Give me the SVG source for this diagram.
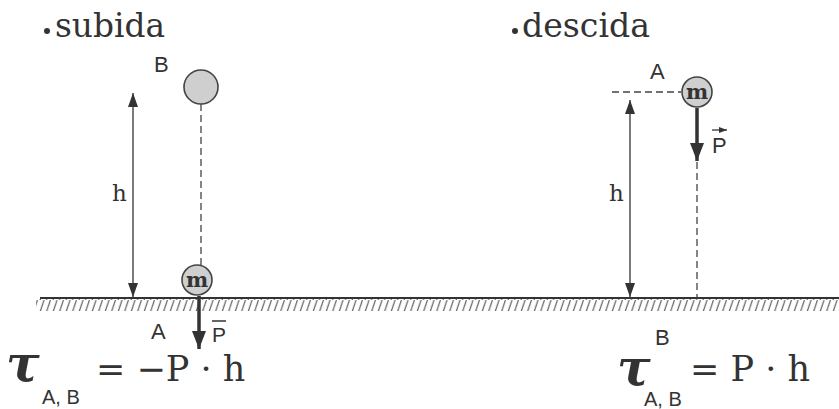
<svg xmlns="http://www.w3.org/2000/svg" width="839" height="409" viewBox="0 0 839 409">
<defs>
<style>
.t{font-family:"DejaVu Serif","Liberation Serif",serif;fill:#333}
.s{font-family:"Liberation Sans",Arial,sans-serif;fill:#333}
.ln{stroke:#333;stroke-width:1.3;fill:none}
.dash{stroke:#444;stroke-width:1.3;stroke-dasharray:7,4;fill:none}
.ball{fill:#cfcfcf;stroke:#444;stroke-width:1.6}
.w{stroke:#333;stroke-width:3.5;fill:none}
</style>
<marker id="ah" viewBox="0 0 14 10" refX="14" refY="5" markerWidth="14" markerHeight="10" markerUnits="userSpaceOnUse" orient="auto-start-reverse"><path d="M0,0 L14,5 L0,10 Z" fill="#333"/></marker>
<marker id="wh" viewBox="0 0 18 14" refX="18" refY="7" markerWidth="18" markerHeight="14" markerUnits="userSpaceOnUse" orient="auto"><path d="M0,0 L18,7 L0,14 Z" fill="#333"/></marker>
<marker id="vh" viewBox="0 0 8 6" refX="8" refY="3" markerWidth="8" markerHeight="6" markerUnits="userSpaceOnUse" orient="auto"><path d="M0,0 L8,3 L0,6 Z" fill="#333"/></marker>
<pattern id="hatch" width="6.5" height="12" patternUnits="userSpaceOnUse"><line x1="5" y1="0" x2="1" y2="12" stroke="#555" stroke-width="1.1"/></pattern>
</defs>

<g id="ground">
<rect x="36" y="299" width="803" height="12" fill="url(#hatch)"/>
<line x1="40" y1="298" x2="839" y2="298" stroke="#333" stroke-width="2"/>
</g>

<g id="connectors">
<line class="ln" x1="133" y1="93" x2="133" y2="297" marker-start="url(#ah)" marker-end="url(#ah)"/>
<line class="dash" x1="201" y1="104" x2="201" y2="265"/>
<line class="w" x1="199" y1="296" x2="199" y2="349" marker-end="url(#wh)"/>
<line class="ln" x1="630" y1="100" x2="630" y2="297" marker-start="url(#ah)" marker-end="url(#ah)"/>
<line class="dash" x1="612" y1="92" x2="681" y2="92"/>
<line class="w" x1="697" y1="108" x2="697" y2="161" marker-end="url(#wh)"/>
<line class="dash" x1="697" y1="162" x2="697" y2="298"/>
</g>

<g id="subida">
<circle cx="47" cy="31" r="3" fill="#333"/>
<text class="t" x="55" y="37" font-size="33" textLength="110" lengthAdjust="spacingAndGlyphs">subida</text>
<text class="s" x="154" y="72" font-size="22">B</text>
<circle class="ball" cx="201" cy="87" r="17"/>
<text class="t" x="112" y="201" font-size="23">h</text>
<circle class="ball" cx="197" cy="280" r="15"/>
<text class="t" x="197" y="287" font-size="21" font-weight="bold" text-anchor="middle">m</text>
<text class="s" x="151" y="339" font-size="22">A</text>
<text class="s" x="212" y="342" font-size="21">P</text>
<line x1="212" y1="321" x2="226" y2="321" stroke="#333" stroke-width="1.5"/>
</g>

<g id="eq-left">
<text class="t" x="6" y="381" font-size="50" font-weight="bold" font-style="italic">τ</text>
<text class="s" x="42" y="404" font-size="20">A, B</text>
<text class="t" x="96" y="381" font-size="35">= −P · h</text>
</g>

<g id="descida">
<circle cx="515" cy="31" r="3" fill="#333"/>
<text class="t" x="522" y="37" font-size="33" textLength="128" lengthAdjust="spacingAndGlyphs">descida</text>
<text class="s" x="650" y="79" font-size="22">A</text>
<circle class="ball" cx="697" cy="92" r="15"/>
<text class="t" x="697" y="99" font-size="21" font-weight="bold" text-anchor="middle">m</text>
<text class="s" x="712" y="153" font-size="22">P</text>
<path d="M712,130 L727,130" stroke="#333" stroke-width="1.3" marker-end="url(#vh)"/>
<text class="t" x="609" y="201" font-size="23">h</text>
<text class="s" x="655" y="345" font-size="22">B</text>
</g>

<g id="eq-right">
<text class="t" x="617" y="385" font-size="50" font-weight="bold" font-style="italic">τ</text>
<text class="s" x="644" y="406" font-size="20">A, B</text>
<text class="t" x="690" y="381" font-size="35">= P · h</text>
</g>
</svg>
